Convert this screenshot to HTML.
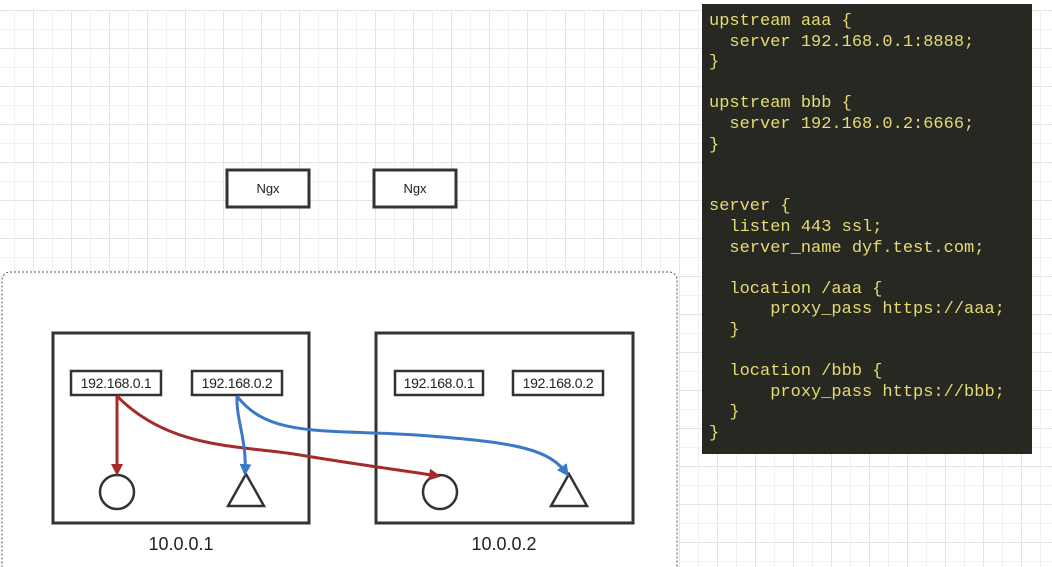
<!DOCTYPE html>
<html><head><style>
html,body{margin:0;padding:0;background:#fff;}
body{width:1052px;height:567px;position:relative;overflow:hidden;font-family:"Liberation Sans",sans-serif;}
.code{position:absolute;left:702px;top:4px;width:330px;height:450px;background:#272822;}
.code pre{margin:0;position:absolute;left:7px;top:8px;font-family:"Liberation Mono",monospace;font-size:17px;line-height:20.6px;color:#e6db74;}
</style></head><body>
<svg width="1052" height="567" style="position:absolute;left:0;top:0">
<defs>
<pattern id="g" x="-5" y="10" width="38" height="38" patternUnits="userSpaceOnUse">
<path d="M0 0.5H38M0.5 0V38" stroke="#e4e4e4" stroke-width="1" fill="none"/>
<path d="M0 19.5H38M19.5 0V38" stroke="#f0f0f0" stroke-width="1" fill="none"/>
</pattern>
<marker id="ar" markerWidth="12" markerHeight="12" refX="9" refY="6" orient="auto" markerUnits="userSpaceOnUse" viewBox="0 0 12 12"><path d="M0 0L12 6L0 12z" fill="#a52a2a"/></marker>
<marker id="ab" markerWidth="12" markerHeight="12" refX="9" refY="6" orient="auto" markerUnits="userSpaceOnUse" viewBox="0 0 12 12"><path d="M0 0L12 6L0 12z" fill="#3c78c8"/></marker>
</defs>
<rect x="0" y="10" width="1052" height="557" fill="url(#g)"/>
<rect x="2" y="272" width="675" height="310" rx="8" fill="#fff" stroke="#555" stroke-width="1" stroke-dasharray="2,2"/>
<g fill="#fff" stroke="#333" stroke-width="3">
<rect x="227" y="170" width="82" height="37"/>
<rect x="374" y="170" width="82" height="37"/>
<rect x="53" y="333" width="256" height="190"/>
<rect x="376" y="333" width="257" height="190"/>
</g>
<g fill="#fff" stroke="#333" stroke-width="2.5">
<rect x="71" y="371" width="90" height="24"/>
<rect x="192" y="371" width="90" height="24"/>
<rect x="395" y="371" width="88" height="24"/>
<rect x="513" y="371" width="90" height="24"/>
<ellipse cx="117" cy="492" rx="17" ry="17"/>
<ellipse cx="440" cy="492" rx="17" ry="17"/>
<path d="M246 474L228 506H264Z"/>
<path d="M569 474L551 506H587Z"/>
</g>
<g font-size="13" fill="#222" text-anchor="middle">
<text x="268" y="193">Ngx</text><text x="415" y="193">Ngx</text>
</g>
<g font-size="14" fill="#222" text-anchor="middle" letter-spacing="-0.3">
<text x="116" y="388">192.168.0.1</text><text x="237" y="388">192.168.0.2</text>
<text x="439" y="388">192.168.0.1</text><text x="558" y="388">192.168.0.2</text>
</g>
<g font-size="18" fill="#222" text-anchor="middle">
<text x="181" y="550">10.0.0.1</text><text x="504" y="550">10.0.0.2</text>
</g>
<g fill="none" stroke-width="3">
<path d="M117 396V473" stroke="#a52a2a" marker-end="url(#ar)"/>
<path d="M117 396C170 450 240 445 300 455C360 465 400 470 438 476" stroke="#a52a2a" marker-end="url(#ar)"/>
<path d="M237 396C236 420 247 440 245 473" stroke="#3c78c8" marker-end="url(#ab)"/>
<path d="M237 396C270 440 330 428 430 436C520 443 550 450 567 474" stroke="#3c78c8" marker-end="url(#ab)"/>
</g>
</svg>
<div class="code"><pre>upstream aaa {
  server 192.168.0.1:8888;
}

upstream bbb {
  server 192.168.0.2:6666;
}


server {
  listen 443 ssl;
  server_name dyf.test.com;

  location /aaa {
      proxy_pass https://aaa;
  }

  location /bbb {
      proxy_pass https://bbb;
  }
}</pre></div>
</body></html>
